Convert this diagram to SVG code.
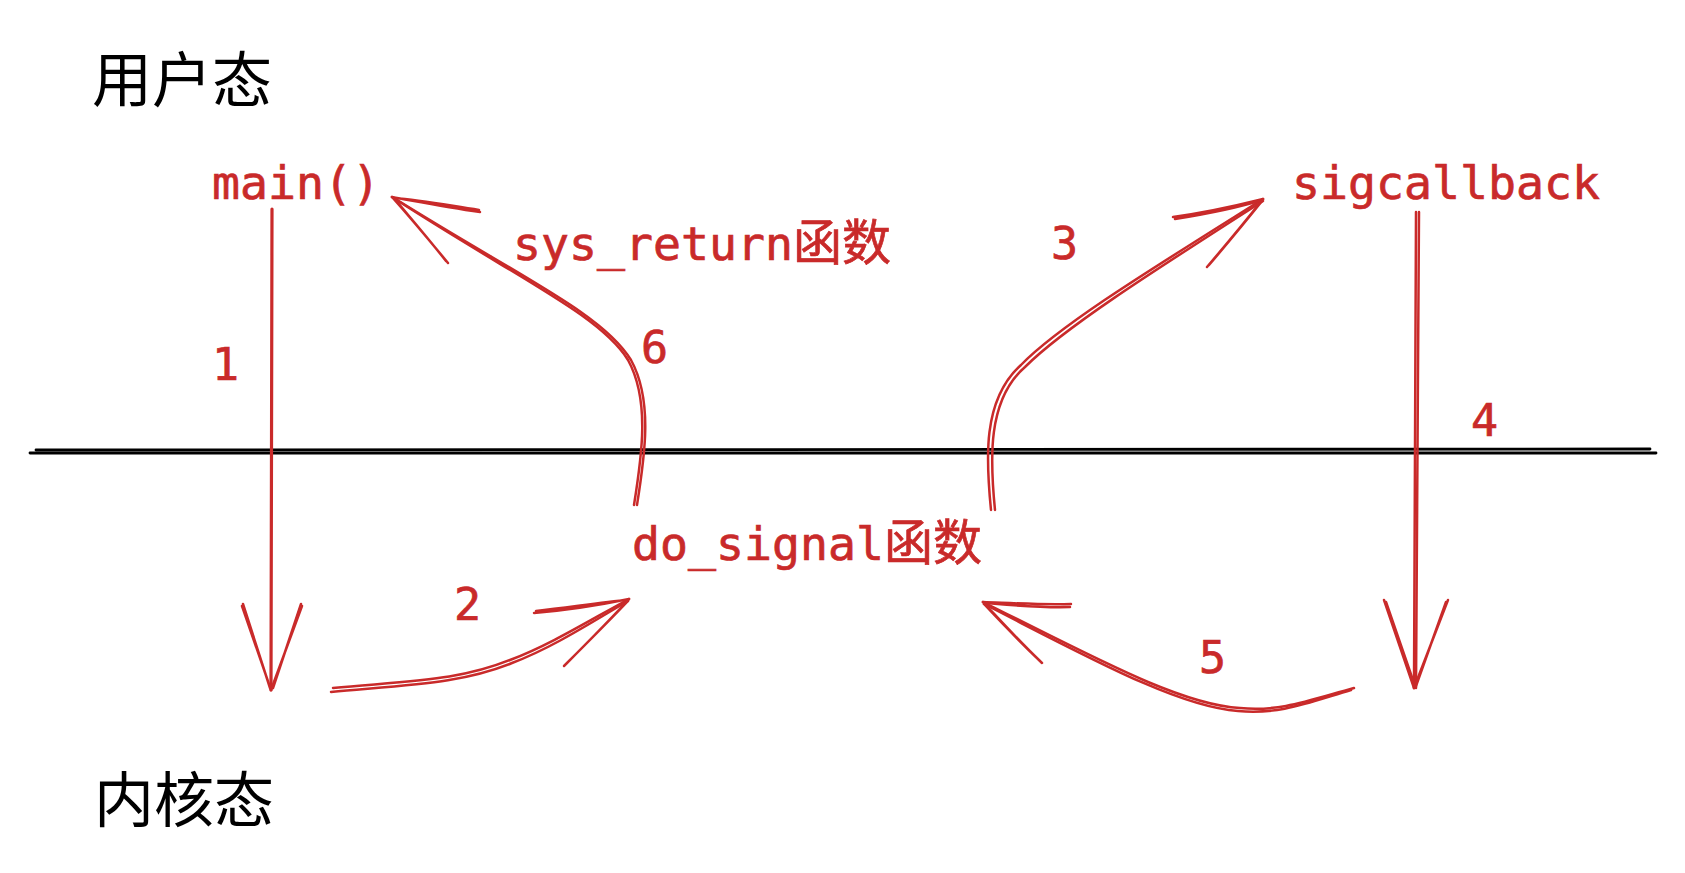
<svg xmlns="http://www.w3.org/2000/svg" width="1685" height="873" viewBox="0 0 1685 873">
<style>
.bg{fill:#ffffff}
.lbl{font-family:"DejaVu Sans Mono","Liberation Mono","Noto Sans CJK SC",monospace;font-size:46.5px;fill:#c92a2a;stroke:#c92a2a;stroke-width:0.7}
.cjk{font-family:"Noto Sans CJK SC",sans-serif;font-size:49px}
.zh{font-family:"Noto Sans CJK SC","Noto Sans",sans-serif;font-size:60px;fill:#000000}
.num{font-family:"DejaVu Sans Mono","Liberation Mono",monospace;font-size:45px;fill:#c92a2a;stroke:#c92a2a;stroke-width:0.7}
.c{fill:none;stroke:#c92a2a;stroke-width:2.5;stroke-linecap:round;stroke-linejoin:round}
.sep{fill:none;stroke:#000000;stroke-width:2.8;stroke-linecap:round}
</style>
<rect class="bg" x="0" y="0" width="1685" height="873"/>
<g id="label-user"><text class="zh" x="92" y="102">用户态</text></g>
<g id="label-kernel"><text class="zh" x="94" y="822">内核态</text></g>
<g id="separator">
<path class="sep" d="M36,450 L1650,449"/>
<path class="sep" d="M30,453 L1656,453"/>
</g>
<g id="node-main"><text class="lbl" x="212" y="199">main()</text></g>
<g id="node-sys-return"><text class="lbl" x="513" y="260">sys_return<tspan class="cjk">函数</tspan></text></g>
<g id="node-sigcallback"><text class="lbl" x="1292" y="199">sigcallback</text></g>
<g id="node-do-signal"><text class="lbl" x="632" y="560">do_signal<tspan class="cjk">函数</tspan></text></g>
<g id="step-labels">
<text class="num" x="212" y="380">1</text>
<text class="num" x="454" y="620">2</text>
<text class="num" x="1051" y="259">3</text>
<text class="num" x="1471" y="436">4</text>
<text class="num" x="1199" y="673">5</text>
<text class="num" x="641" y="363">6</text>
</g>
<g id="connectors">
<!-- 1 -->
<path class="c" style="stroke-width:3.2" d="M272,209 L271,690"/>
<path class="c" d="M242,606 L271,690 M243,604 L270,688"/>
<path class="c" d="M302,606 L271,690 M301,604 L273,688"/>
<!-- 2 -->
<path class="c" d="M333,688 C420,680 460,680 510,660 C550,645 590,620 629,599"/>
<path class="c" d="M331,692 C418,684 462,683 512,663 C552,648 592,622 628,601"/>
<path class="c" d="M534,613 C570,610 600,605 629,599 M536,611 C572,607 602,602 628,600"/>
<path class="c" d="M564,666 C590,640 610,620 629,599 M566,664 C592,638 612,618 628,601"/>
<!-- 3 -->
<path class="c" d="M991,510 C986,460 982,400 1021,365 C1060,325 1150,270 1263,199"/>
<path class="c" d="M995,510 C990,460 987,400 1025,367 C1064,328 1152,272 1263,201"/>
<path class="c" d="M1173,217 C1210,212 1235,206 1263,199 M1175,219 C1212,213 1237,208 1262,200"/>
<path class="c" d="M1207,267 C1230,240 1248,218 1263,199 M1209,265 C1232,238 1250,216 1262,201"/>
<!-- 4 -->
<path class="c" d="M1416,212 L1414,688"/>
<path class="c" d="M1419,212 L1416,688"/>
<path class="c" d="M1384,600 L1414,688 M1386,602 L1415,686"/>
<path class="c" d="M1448,600 L1414,688 M1446,602 L1416,686"/>
<!-- 5 -->
<path class="c" d="M1354,688 C1310,700 1280,712 1240,708 C1180,705 1090,655 983,602"/>
<path class="c" d="M1351,690 C1307,703 1278,715 1238,711 C1178,707 1088,657 984,604"/>
<path class="c" d="M1071,604 C1040,605 1010,603 983,602 M1070,607 C1040,608 1010,605 985,603"/>
<path class="c" d="M1042,663 C1020,642 1000,620 983,602 M1040,661 C1018,640 998,619 984,604"/>
<!-- 6 -->
<path class="c" d="M634,505 C642,455 650,400 628,360 C600,315 520,280 392,197"/>
<path class="c" d="M637,505 C645,455 653,400 631,360 C603,314 522,278 394,198"/>
<path class="c" d="M480,212 C445,207 420,202 392,197 M479,210 C446,205 421,200 394,198"/>
<path class="c" d="M448,263 C425,235 408,215 392,197 M446,261 C424,233 407,214 394,198"/>
</g>
</svg>
